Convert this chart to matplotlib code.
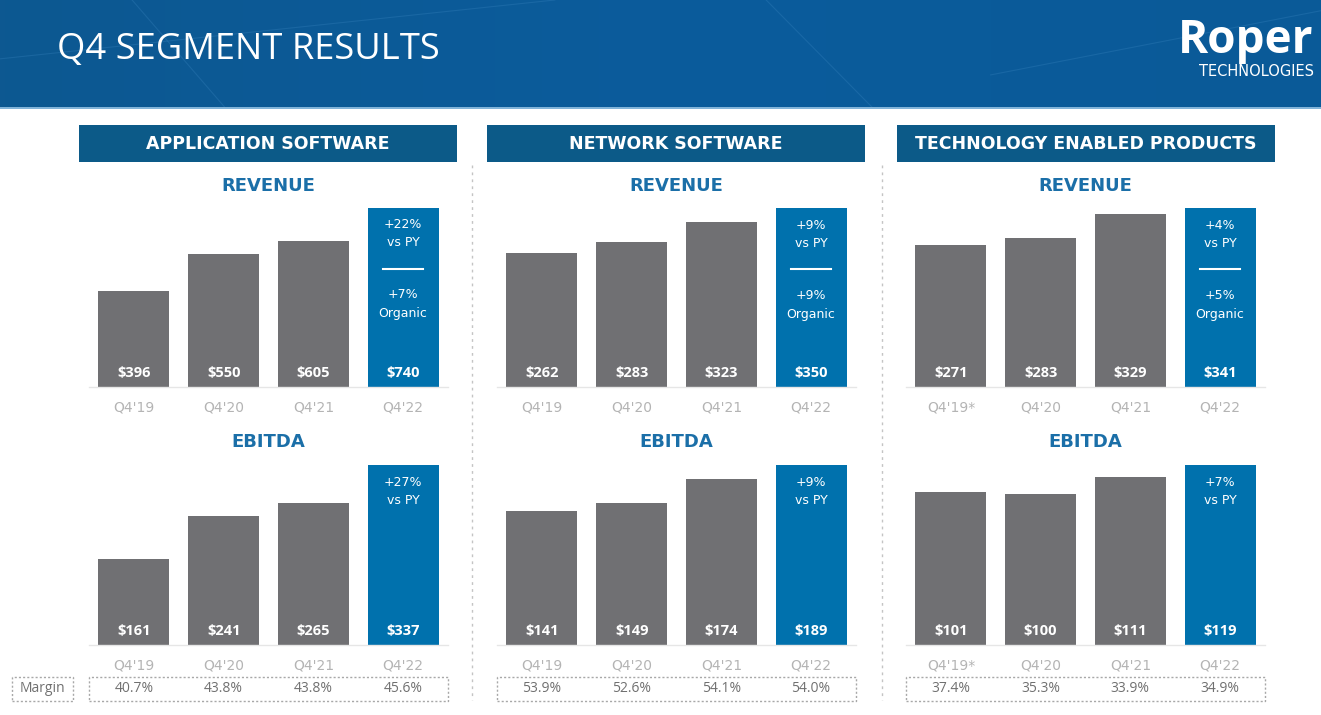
import matplotlib.pyplot as plt
import numpy as np
from matplotlib.patches import Rectangle
from matplotlib.lines import Line2D
from matplotlib.transforms import blended_transform_factory

W, H = 1321, 715

segments = ["APPLICATION SOFTWARE", "NETWORK SOFTWARE", "TECHNOLOGY ENABLED PRODUCTS"]
quarters = [
    ["Q4'19", "Q4'20", "Q4'21", "Q4'22"],
    ["Q4'19", "Q4'20", "Q4'21", "Q4'22"],
    ["Q4'19*", "Q4'20", "Q4'21", "Q4'22"],
]
revenue = [[396, 550, 605, 740], [262, 283, 323, 350], [271, 283, 329, 341]]
ebitda = [[161, 241, 265, 337], [141, 149, 174, 189], [101, 100, 111, 119]]
margin = [[40.7, 43.8, 43.8, 45.6], [53.9, 52.6, 54.1, 54.0], [37.4, 35.3, 33.9, 34.9]]
rev_growth = ["+22%", "+9%", "+4%"]
rev_organic = ["+7%", "+9%", "+5%"]
ebitda_growth = ["+27%", "+9%", "+7%"]

GRAY = "#707073"
BLUE = "#0071ad"
NAVY = "#0c5a88"
TITLE_BLUE = "#1b6fa8"
TICK = "#b4b4b4"
FONT = "Open Sans"
WIDE = "DejaVu Sans"

fig = plt.figure(figsize=(W / 100, H / 100), dpi=100)
fig.patch.set_facecolor("white")


def fx(x):
    return x / W


def fy(y):
    return 1 - y / H


def add_px_axes(left, top, right, bottom):
    return fig.add_axes([fx(left), fy(bottom), (right - left) / W, (bottom - top) / H])


# header band
hdr = add_px_axes(0, 0, W, 107)
grad = np.linspace(0, 1, 256)[None, :]
hdr.imshow(grad, aspect="auto", extent=[0, 1, 0, 1],
           cmap=plt.matplotlib.colors.LinearSegmentedColormap.from_list("h", ["#0d5891", "#0b5c9c", "#0a5a98"]))
for (x0, y0, x1, y1) in [(0.0, 0.45, 0.42, 1.0), (0.1, 1.0, 0.17, 0.0), (0.58, 1.0, 0.66, 0.0), (0.75, 0.3, 1.0, 0.9)]:
    hdr.plot([x0, x1], [y0, y1], color="#3b86c0", lw=0.8, alpha=0.3)
hdr.set_xlim(0, 1)
hdr.set_ylim(0, 1)
hdr.axis("off")
fig.add_artist(Line2D([0, 1], [fy(108), fy(108)], color="#6aa6d2", lw=1.2))

fig.text(fx(57), fy(50), "Q4 SEGMENT RESULTS", color="white", fontsize=26.2,
         family="Open Sans", va="center", ha="left")
fig.text(fx(1313), fy(41), "Roper", color="white", fontsize=33, fontweight="bold",
         family="Open Sans", va="center", ha="right")
fig.text(fx(1314), fy(72), "TECHNOLOGIES", color="white", fontsize=10.5,
         family=WIDE, va="center", ha="right")

panel_left = [79, 487, 897]
axis_left = [89, 497, 906]

for k in range(3):
    # segment header box
    pl = panel_left[k]
    fig.add_artist(Rectangle((fx(pl), fy(162)), 378 / W, 37 / H, facecolor=NAVY,
                             edgecolor="none", transform=fig.transFigure))
    fig.text(fx(pl + 189), fy(144), segments[k], color="white", fontsize=12.5,
             fontweight="bold", family=WIDE, ha="center", va="center")

    al = axis_left[k]
    for vals, top, bottom, title, ty, growth, organic in [
        (revenue[k], 208, 387, "REVENUE", 186, rev_growth[k], rev_organic[k]),
        (ebitda[k], 465, 645, "EBITDA", 442, ebitda_growth[k], None),
    ]:
        fig.text(fx(al + 179), fy(ty), title, color=TITLE_BLUE, fontsize=13,
                 fontweight="bold", family=WIDE, ha="center", va="center")
        ax = add_px_axes(al, top, al + 359, bottom)
        x = np.arange(len(vals))
        colors = [GRAY] * (len(vals) - 1) + [BLUE]
        ax.bar(x, vals, width=0.79, color=colors)
        ax.set_xlim(-0.5, len(vals) - 0.5)
        ax.set_ylim(0, max(vals))
        for s in ["top", "left", "right"]:
            ax.spines[s].set_visible(False)
        ax.spines["bottom"].set_color("#e6e6e6")
        ax.spines["bottom"].set_linewidth(1)
        ax.set_yticks([])
        ax.set_xticks(x)
        ax.set_xticklabels(quarters[k], color=TICK, fontsize=10, family=WIDE)
        ax.tick_params(axis="x", length=0, pad=10)
        for i, v in enumerate(vals):
            ax.annotate(f"${v}", (i, 0), xytext=(0, 14), textcoords="offset pixels",
                        ha="center", va="center", color="white", fontsize=10.5,
                        fontweight="bold", family=FONT)
        n = len(vals) - 1
        top_v = vals[-1]
        ax.annotate(growth, (n, top_v), xytext=(0, -17), textcoords="offset pixels",
                    ha="center", va="center", color="white", fontsize=9, family=WIDE)
        ax.annotate("vs PY", (n, top_v), xytext=(0, -35), textcoords="offset pixels",
                    ha="center", va="center", color="white", fontsize=9, family=WIDE)
        if organic is not None:
            tr = blended_transform_factory(ax.transData, ax.transAxes)
            ax.plot([n - 0.22, n + 0.22], [1 - 61 / 179] * 2, color="white", lw=1.5,
                    transform=tr)
            ax.annotate(organic, (n, top_v), xytext=(0, -87), textcoords="offset pixels",
                        ha="center", va="center", color="white", fontsize=9, family=WIDE)
            ax.annotate("Organic", (n, top_v), xytext=(0, -106), textcoords="offset pixels",
                        ha="center", va="center", color="white", fontsize=9, family=WIDE)

    # margin row
    fig.add_artist(Rectangle((fx(al), fy(701)), 359 / W, 24 / H, facecolor="none",
                             edgecolor="#a8a8a8", lw=1, ls=(0, (1.5, 1.5)),
                             transform=fig.transFigure))
    for i, m in enumerate(margin[k]):
        cx = al + 44.9 + 89.7 * i
        fig.text(fx(cx), fy(689), f"{m:.1f}%", color="#707070", fontsize=10,
                 family=FONT, ha="center", va="center")

fig.add_artist(Rectangle((fx(12), fy(701)), 61 / W, 24 / H, facecolor="none",
                         edgecolor="#a8a8a8", lw=1, ls=(0, (1.5, 1.5)),
                         transform=fig.transFigure))
fig.text(fx(42.5), fy(689), "Margin", color="#707070", fontsize=10, family=FONT,
         ha="center", va="center")

# dotted separators
for sx in [472, 882]:
    fig.add_artist(Line2D([fx(sx), fx(sx)], [fy(165), fy(700)], color="#c4c4c4",
                          lw=1, ls=(0, (2, 3))))

fig.savefig("out.png", dpi=100)
